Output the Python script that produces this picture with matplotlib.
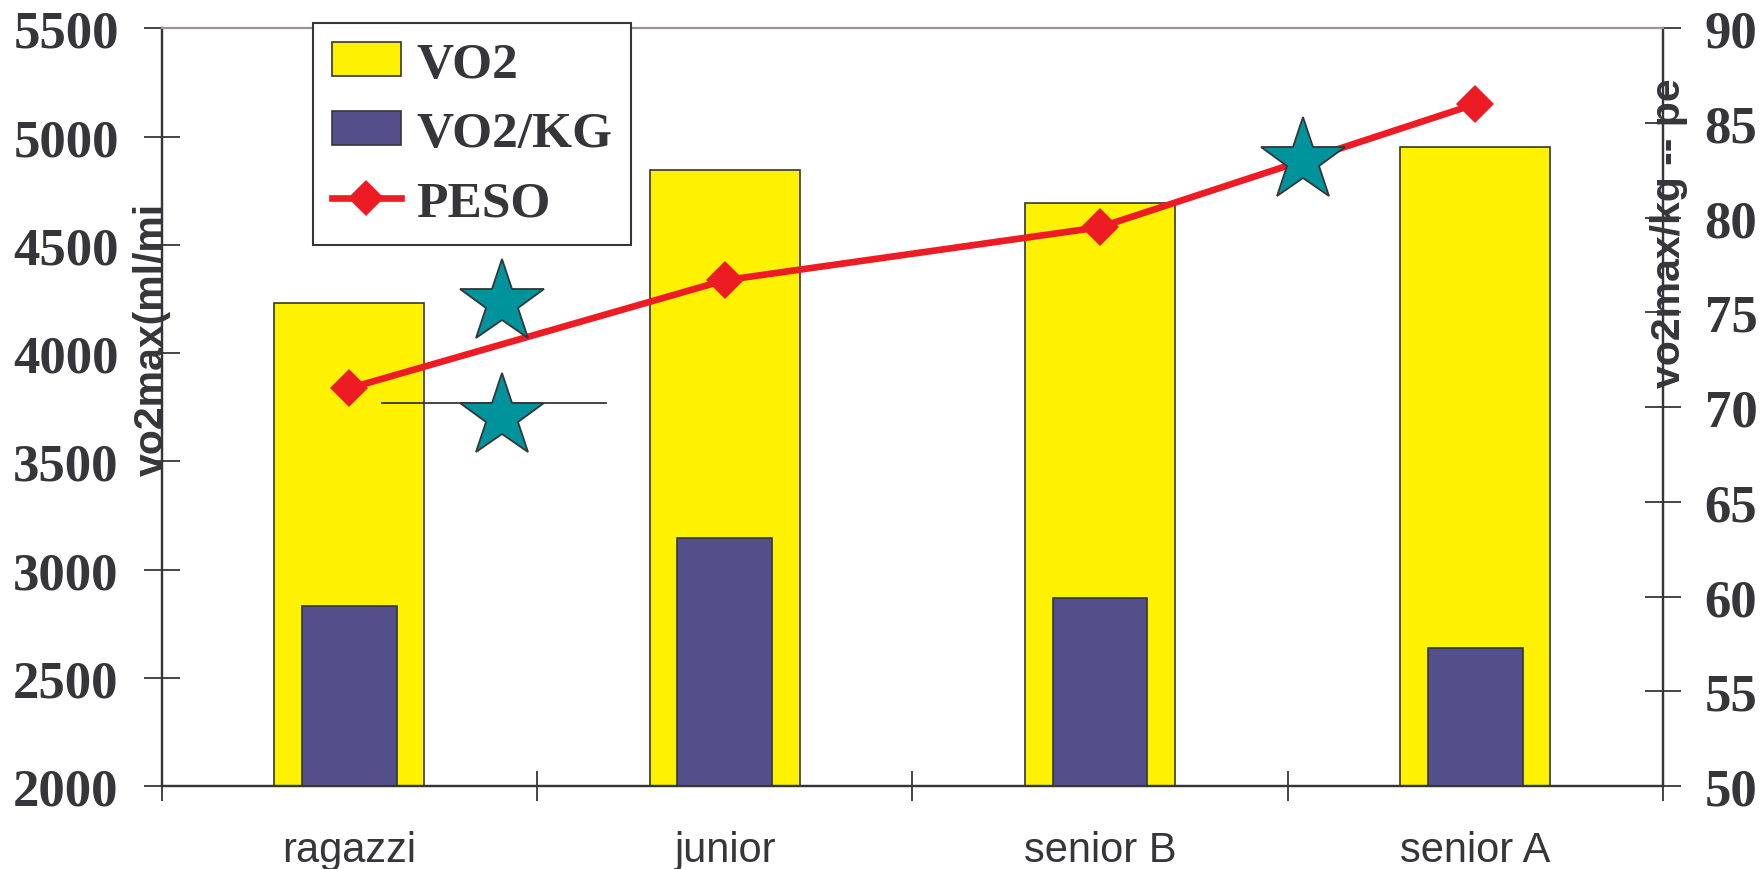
import matplotlib.pyplot as plt
from matplotlib.lines import Line2D
from matplotlib.patches import Patch

categories = ["ragazzi", "junior", "senior B", "senior A"]
vo2 = [4230, 4845, 4695, 4950]
vo2_kg = [59.5, 63.1, 59.9, 57.3]
peso = [71.0, 76.7, 79.5, 86.0]

# decorative stars and the short rule next to the first group
star_x = [0.406, 0.406, 2.54]
star_y = [75.5, 69.5, 83.0]
rule_x = [0.086, 0.685]
rule_y = [70.2, 70.2]

YELLOW = "#fff200"
PURPLE = "#524f8a"
RED = "#ed1c24"
TEAL = "#00939b"
INK = "#35353a"

serif = "Liberation Serif"
sans = "Liberation Sans"

fig = plt.figure(figsize=(17.64, 8.70), dpi=100)
ax = fig.add_axes([0.0917, 0.0954, 0.9427 - 0.0917, 0.9663 - 0.0954])
ax2 = ax.twinx()

x = list(range(len(categories)))
ax.bar(x, vo2, width=0.40, color=YELLOW, edgecolor=INK, linewidth=1.2, zorder=2)
ax2.bar(x, vo2_kg, width=0.252, color=PURPLE, edgecolor=INK, linewidth=1.2, zorder=2)
ax2.plot(x, peso, color=RED, linewidth=4.8, marker="D", markersize=19,
         markeredgewidth=0, zorder=3)
ax2.plot(rule_x, rule_y, color=INK, linewidth=1.3, zorder=4)
ax2.plot(star_x, star_y, linestyle="none", marker="*", markersize=63,
         markerfacecolor=TEAL, markeredgecolor=INK, markeredgewidth=1.3, zorder=5)

ax.set_xlim(-0.5, 3.5)
ax.set_ylim(2000, 5500)
ax2.set_ylim(50, 90)
ax.set_yticks(range(2000, 5501, 500))
ax2.set_yticks(range(50, 91, 5))
ax.set_xticks([i - 0.5 for i in range(5)])
ax.set_xticklabels([])
ax.set_xticks(x, minor=True)
ax.set_xticklabels(categories, minor=True, fontsize=30, family=sans, color=INK)
ax.tick_params(axis="x", which="minor", length=0, pad=32)
ax.tick_params(axis="x", which="major", direction="inout", length=21, width=1.3, color=INK)
ax.tick_params(axis="y", direction="inout", length=26, width=1.3, color=INK, pad=18)
ax2.tick_params(axis="y", direction="inout", length=26, width=1.3, color=INK, pad=17)
for lab in ax.get_yticklabels() + ax2.get_yticklabels():
    lab.set_family(serif)
    lab.set_fontweight("bold")
    lab.set_fontsize(38)
    lab.set_color(INK)

for a in (ax, ax2):
    a.spines["top"].set_color("#a0918c")
    a.spines["top"].set_linewidth(1.5)
    for s in ("left", "right", "bottom"):
        a.spines[s].set_color(INK)
        a.spines[s].set_linewidth(1.6)
ax.patch.set_visible(False)

fig.text(0.0862, 0.6103, "vo2max(ml/mi", rotation=90, ha="center", va="center",
         fontsize=29.5, fontweight="bold", family=sans, color=INK)
fig.text(0.946, 0.7316, "vo2max/kg -- pe", rotation=90, ha="center", va="center",
         fontsize=29.5, fontweight="bold", family=sans, color=INK)

handles = [
    Patch(facecolor=YELLOW, edgecolor=INK, linewidth=1.2, label="VO2"),
    Patch(facecolor=PURPLE, edgecolor=INK, linewidth=1.2, label="VO2/KG"),
    Line2D([], [], color=RED, linewidth=4.8, marker="D", markersize=18,
           markeredgewidth=0, label="PESO"),
]
leg = ax2.legend(handles=handles, loc="upper left", bbox_to_anchor=(313 / 1764, 1 - 24 / 870),
                 bbox_transform=fig.transFigure, borderaxespad=0, fancybox=False,
                 framealpha=1, edgecolor=INK, borderpad=0.36, handlelength=1.35,
                 handleheight=0.65, handletextpad=0.3, labelspacing=0.45,
                 prop={"family": serif, "weight": "bold", "size": 37})
leg.get_frame().set_linewidth(1.5)
for t in leg.get_texts():
    t.set_color(INK)
leg.set_zorder(6)

fig.savefig("out.png", dpi=100)
